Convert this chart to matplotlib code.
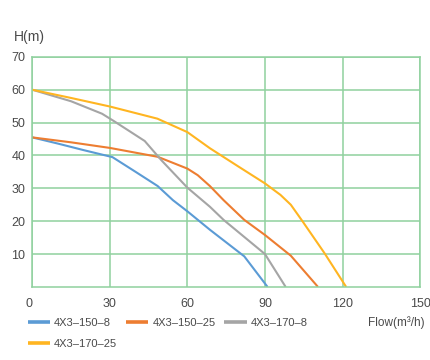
import matplotlib
matplotlib.use('Agg')
import matplotlib.pyplot as plt

plt.rcParams['font.family'] = ['Liberation Sans', 'DejaVu Sans']

# ---- 数据 ----
names = ['4X3–150–8', '4X3–150–25', '4X3–170–8', '4X3–170–25']
colors = ['#5B9BD5', '#ED7D31', '#A5A5A5', '#FFB521']

q_150_8 = [0, 10, 20, 31, 40, 48.5, 54.4, 60, 68.7, 82, 91]
h_150_8 = [45.5, 43.6, 41.6, 39.5, 35, 30.7, 26.4, 23, 17.4, 9.3, 0]

q_150_25 = [0, 15, 30, 48.5, 60, 64, 68.7, 74, 82, 90, 100, 110.5]
h_150_25 = [45.5, 44, 42.3, 39.6, 36, 34, 30.7, 26.4, 20.4, 15.8, 9.5, 0]

q_170_8 = [0, 15, 27, 31.5, 43.5, 50, 60, 68.7, 74, 90, 98]
h_170_8 = [60, 56.5, 52.7, 50.5, 44.4, 38.5, 30.2, 24.4, 20.4, 10, 0]

q_170_25 = [0, 15, 30, 48.4, 60, 68.7, 80, 90, 96, 100, 104.5, 113, 121.4]
h_170_25 = [60, 57.5, 54.9, 51.2, 47.1, 42.2, 36.5, 31.5, 28, 25, 20, 10.3, 0]

xticks = [0, 30, 60, 90, 120, 150]
yticks = [10, 20, 30, 40, 50, 60, 70]

series = [(q_150_8, h_150_8), (q_150_25, h_150_25),
          (q_170_8, h_170_8), (q_170_25, h_170_25)]

grid_c = '#8FD19E'
text_c = '#4A4A4A'

fig = plt.figure(figsize=(4.3, 3.6), dpi=100)
ax = fig.add_axes([0.075, 0.203, 0.902, 0.639])

lines = []
for (q, h), c, n in zip(series, colors, names):
    ln, = ax.plot(q, h, color=c, lw=1.5, label=n, solid_capstyle='butt')
    lines.append(ln)

ax.set_xlim(0, 150)
ax.set_ylim(0, 70)
ax.set_xticks(xticks)
ax.set_yticks(yticks)
ax.grid(True, color=grid_c, lw=1.1)
ax.set_axisbelow(True)
for s in ax.spines.values():
    s.set_color(grid_c)
    s.set_linewidth(1.1)
ax.tick_params(length=0, labelsize=9, labelcolor=text_c, pad=8)
ax.tick_params(axis='y', pad=5)
ax.get_xticklabels()[0].set_ha('right')

fig.text(0.033, 0.897, 'H(m)', fontsize=10, color=text_c, ha='left', va='center')
fig.text(0.988, 0.103, 'Flow(m³/h)', fontsize=8.5, color=text_c, ha='right', va='center')

# 图例按行排列：150-8, 150-25, 170-8 / 170-25
order = [0, 3, 1, 2]
leg = fig.legend([lines[i] for i in order], [names[i] for i in order],
                 loc='upper left', bbox_to_anchor=(0.055, 0.13), ncol=3,
                 frameon=False, fontsize=8, handlelength=2.0, handletextpad=0.35,
                 columnspacing=0.8, labelspacing=1.0, borderaxespad=0,
                 labelcolor=text_c)
for l in leg.get_lines():
    l.set_linewidth(2.6)

fig.savefig('out.png', dpi=100)
